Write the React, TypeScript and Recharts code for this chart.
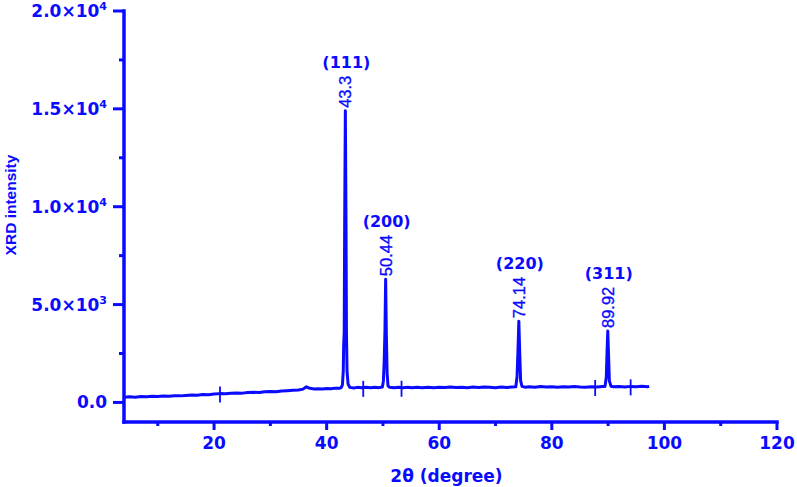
import React from 'react';
import { ComposedChart, Line, Scatter, XAxis, YAxis, Label } from 'recharts';

const BLUE = '#0a0aff';

// 2θ positions and intensities of the measured trace
const twoTheta = [
  4, 5, 6, 7, 8, 9, 10, 11, 12, 13, 14, 15, 16, 17, 18, 19, 20, 21, 22, 23, 24, 25, 26, 27, 28, 29, 30, 31, 32, 33, 34, 35,
  35.8, 36.4, 37.0, 37.8, 38.5, 39.3, 40, 40.8, 41.5, 42.2, 42.6,
  42.8, 42.95, 43.02, 43.12, 43.2, 43.32, 43.44, 43.52, 43.62, 43.8, 44.1,
  44.8, 45.5, 46.2, 47, 47.8, 48.6, 49.3, 49.9,
  50.08, 50.22, 50.36, 50.48, 50.6, 50.74, 50.9, 51.2,
  52, 52.8, 53.6, 54.4, 55.2, 56, 57, 58, 59, 60, 61, 62, 63, 64, 65, 66, 67, 68, 69, 70, 71, 72, 73, 73.6,
  73.82, 73.98, 74.14, 74.3, 74.46, 74.7,
  75.2, 76, 77, 78, 79, 80, 81, 82, 83, 84, 85, 86, 87, 88, 89, 89.45,
  89.68, 89.8, 89.94, 90.08, 90.22, 90.5,
  91, 92, 93, 94, 95, 96, 97, 97.3,
];
const intensity = [
  265, 285, 270, 300, 290, 315, 300, 330, 320, 345, 335, 360, 375, 365, 400, 390, 425, 450, 440, 470, 485, 475, 510, 520, 505, 545, 560, 545, 585, 600, 620, 635,
  680, 800, 720, 690, 700, 685, 715, 700, 730, 720, 760,
  900, 1600, 2900, 3600, 9000, 14900, 9000, 3500, 1600, 950, 770,
  740, 770, 745, 775, 750, 770, 755, 790,
  1100, 2100, 3700, 6300, 3500, 1500, 850, 770,
  745, 775, 750, 770, 745, 775, 755, 780, 750, 775, 760, 790, 765, 780, 755, 785, 760, 790, 770, 755, 785, 765, 790, 800,
  1300, 2600, 4150, 2500, 1100, 820,
  780, 800, 775, 810, 785, 800, 780, 805, 785, 810, 790, 780, 805, 790, 815, 820,
  1300, 2500, 3650, 2400, 1100, 830,
  800, 815, 790, 820, 800, 825, 805, 820,
];

// peak annotations
const peakPos = [43.32, 50.48, 74.14, 89.94];
const peakTop = [14900, 6300, 4150, 3650];
const peakValueLabel = ['43.3', '50.44', '74.14', '89.92'];
const peakHkl = ['(111)', '(200)', '(220)', '(311)'];

// small vertical cross marks on the trace
const crossPos = [21.05, 46.5, 53.3, 87.7, 94.0];
const crossLevel = [450, 745, 750, 790, 820];

const xTicks = [10, 20, 30, 40, 50, 60, 70, 80, 90, 100, 110, 120];
const yTicks = [0, 2500, 5000, 7500, 10000, 12500, 15000, 17500, 20000];

const traceData = twoTheta.map((x, i) => ({ x, y: intensity[i] }));
const peakData = peakPos.map((x, i) => ({ x, y: peakTop[i], lbl: peakValueLabel[i], hkl: peakHkl[i] }));
const crossData = crossPos.map((x, i) => ({ x, y: crossLevel[i] }));

const tickFont = "'DejaVu Sans', sans-serif";
const arial = "'Liberation Sans', Arial, sans-serif";

function XTick(props: any) {
  const { x, y, payload } = props;
  const major = payload.value % 20 === 0;
  return (
    <g>
      <line x1={x} x2={x} y1={y} y2={y + (major ? 8 : 4)} stroke={BLUE} strokeWidth={3} />
      {major && (
        <text x={x} y={y + 27} textAnchor="middle" fill={BLUE} fontFamily={tickFont} fontWeight="bold" fontSize={17}>
          {payload.value}
        </text>
      )}
    </g>
  );
}

function YTick(props: any) {
  const { x, y, payload } = props;
  const v = payload.value as number;
  const major = v % 5000 === 0;
  let content: any = null;
  if (major) {
    if (v === 0) {
      content = '0.0';
    } else {
      const exp = Math.floor(Math.log10(v));
      const mant = (v / Math.pow(10, exp)).toFixed(1);
      content = (
        <>
          <tspan>{mant}×10</tspan>
          <tspan fontSize={11} dy={-7}>{exp}</tspan>
        </>
      );
    }
  }
  return (
    <g>
      <line x1={x - (major ? 11 : 5)} x2={x} y1={y} y2={y} stroke={BLUE} strokeWidth={3} />
      {major && (
        <text x={x - 17} y={y} dy={6} textAnchor="end" fill={BLUE} fontFamily={tickFont} fontWeight="bold" fontSize={17}>
          {content}
        </text>
      )}
    </g>
  );
}

function textLen(s: string, size: number) {
  let w = 0;
  for (const c of s) w += c === '.' ? 0.278 * size : 0.556 * size;
  return w;
}

function PeakLabel(props: any) {
  const { cx, cy, payload } = props;
  const fs = 16.5;
  const gap = 3;
  const start = cy - gap;
  const len = textLen(payload.lbl, fs);
  return (
    <g>
      <text
        x={cx}
        y={start}
        dy={fs * 0.36}
        transform={`rotate(-90 ${cx} ${start})`}
        textAnchor="start"
        fill={BLUE}
        stroke={BLUE}
        strokeWidth={0.35}
        fontFamily={arial}
        fontSize={fs}
      >
        {payload.lbl}
      </text>
      <text x={cx + 1} y={start - len - 8} textAnchor="middle" fill={BLUE} fontFamily={tickFont} fontWeight="bold" fontSize={16}>
        {payload.hkl}
      </text>
    </g>
  );
}

function CrossMark(props: any) {
  const { cx, cy } = props;
  return <line x1={cx} x2={cx} y1={cy - 7} y2={cy + 9} stroke={BLUE} strokeWidth={1.8} />;
}

export default function App() {
  return (
    <div style={{ position: 'absolute', left: 0, top: 0, width: 797, height: 487, background: '#fff' }}>
      <ComposedChart width={797} height={487} margin={{ top: 11, right: 20, bottom: 0, left: 0 }}>
        <XAxis
          type="number"
          dataKey="x"
          domain={[4, 120]}
          ticks={xTicks}
          interval={0}
          allowDataOverflow
          height={65}
          tickSize={0}
          tickMargin={0}
          tickLine={false}
          tick={<XTick />}
          axisLine={{ stroke: BLUE, strokeWidth: 3.5, strokeLinecap: 'square' }}
        >
          <Label
            content={(p: any) => {
              const vb = p.viewBox || {};
              return (
                <text x={vb.x + vb.width / 2 - 4} y={482} textAnchor="middle" fill={BLUE} fontFamily={tickFont} fontWeight="bold" fontSize={17}>
                  2θ (degree)
                </text>
              );
            }}
          />
        </XAxis>
        <YAxis
          type="number"
          dataKey="y"
          domain={[-1000, 20000]}
          ticks={yTicks}
          interval={0}
          allowDataOverflow
          width={124}
          tickSize={0}
          tickMargin={0}
          tickLine={false}
          tick={<YTick />}
          axisLine={{ stroke: BLUE, strokeWidth: 3.5, strokeLinecap: 'square' }}
        >
          <Label
            content={() => (
              <text
                x={11}
                y={205}
                dy={5}
                transform="rotate(-90 11 205)"
                textAnchor="middle"
                fill={BLUE}
                fontFamily={arial}
                fontWeight="bold"
                fontSize={15.5}
              >
                XRD intensity
              </text>
            )}
          />
        </YAxis>
        <Line
          data={traceData}
          dataKey="y"
          type="linear"
          stroke={BLUE}
          strokeWidth={3}
          strokeLinejoin="round"
          dot={false}
          activeDot={false}
          isAnimationActive={false}
        />
        <Scatter data={crossData} dataKey="y" shape={<CrossMark />} isAnimationActive={false} />
        <Scatter data={peakData} dataKey="y" shape={<PeakLabel />} isAnimationActive={false} />
      </ComposedChart>
    </div>
  );
}
